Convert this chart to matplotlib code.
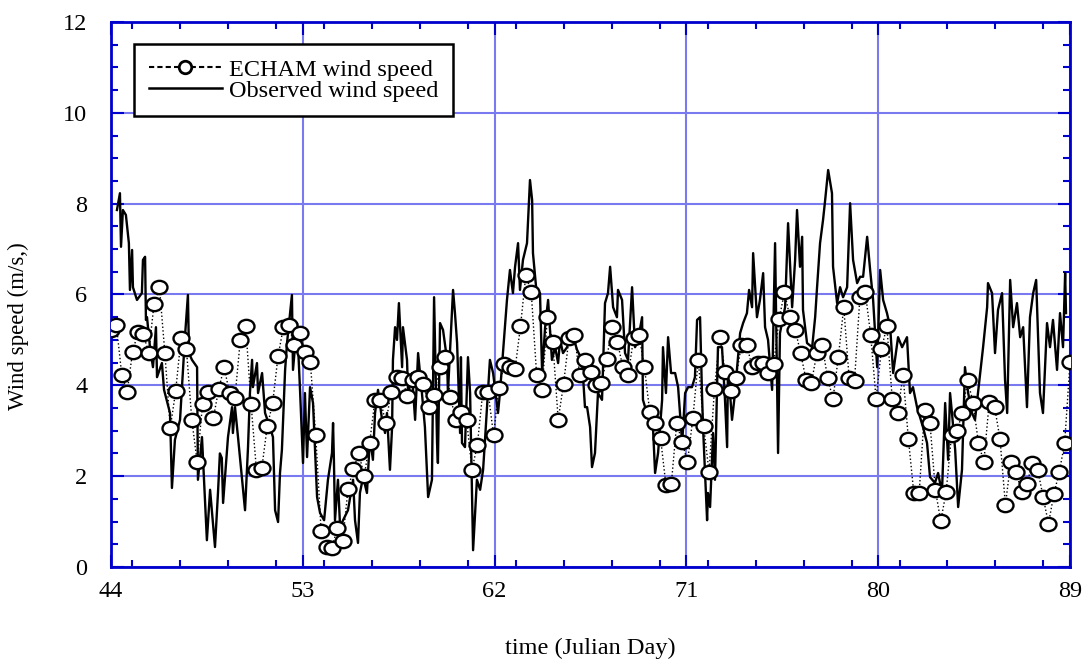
import numpy as np
import matplotlib
matplotlib.use("Agg")
import matplotlib.pyplot as plt
from matplotlib.path import Path
from matplotlib.transforms import Affine2D
from matplotlib.lines import Line2D
from matplotlib.ticker import MultipleLocator

plt.rcParams["font.family"] = ["Liberation Serif", "DejaVu Serif"]

# ECHAM model wind speed, 6-hourly (m/s)
echam_speed = [
    5.22, 5.33, 4.23, 3.85, 4.73, 5.17, 5.13, 4.71, 5.80, 6.16,
    4.71, 3.06, 3.87, 5.04, 4.80, 3.24, 2.31, 3.59, 3.85, 3.28,
    3.92, 4.40, 3.83, 3.72, 5.00, 5.30, 3.59, 2.13, 2.18, 3.10,
    3.60, 4.64, 5.28, 5.33, 4.88, 5.15, 4.73, 4.51, 2.90, 0.80,
    0.44, 0.42, 0.85, 0.58, 1.72, 2.16, 2.50, 2.00, 2.73, 3.68,
    3.68, 3.17, 3.85, 4.18, 4.16, 3.77, 4.12, 4.18, 4.03, 3.52,
    3.79, 4.40, 4.62, 3.74, 3.24, 3.41, 3.24, 2.14, 2.69, 3.85,
    3.85, 2.90, 3.94, 4.47, 4.40, 4.36, 5.30, 6.43, 6.05, 4.23,
    3.90, 5.50, 4.95, 3.24, 4.03, 5.04, 5.10, 4.23, 4.56, 4.30,
    4.00, 4.05, 4.58, 5.28, 4.95, 4.40, 4.23, 5.04, 5.10, 4.40,
    3.41, 3.17, 2.84, 1.80, 1.83, 3.17, 2.75, 2.31, 3.28, 4.56,
    3.10, 2.09, 3.92, 5.06, 4.29, 3.87, 4.16, 4.89, 4.89, 4.40,
    4.50, 4.50, 4.27, 4.47, 5.46, 6.05, 5.50, 5.22, 4.71, 4.12,
    4.05, 4.71, 4.89, 4.16, 3.70, 4.62, 5.72, 4.16, 4.10, 5.94,
    6.05, 5.10, 3.70, 4.80, 5.30, 3.70, 3.39, 4.23, 2.82, 1.63,
    1.63, 3.46, 3.17, 1.70, 1.01, 1.65, 2.90, 2.99, 3.39, 4.12,
    3.61, 2.73, 2.31, 3.63, 3.52, 2.82, 1.37, 2.31, 2.09, 1.65,
    1.83, 2.29, 2.14, 1.54, 0.95, 1.61, 2.09, 2.73, 4.51,
]
echam_day = np.linspace(44, 89, len(echam_speed))

# observed wind speed (Julian day, m/s)
obs_day = [
    44.28, 44.42, 44.47, 44.56, 44.70, 44.84, 44.89, 44.99, 45.03, 45.22,
    45.45, 45.50, 45.60, 45.64, 45.69, 45.83, 45.97, 46.11, 46.16, 46.39,
    46.49, 46.77, 46.86, 47.00, 47.24, 47.47, 47.61, 47.66, 47.80, 48.04,
    48.08, 48.27, 48.50, 48.65, 48.88, 49.02, 49.11, 49.20, 49.26, 49.49,
    49.68, 49.72, 49.82, 49.96, 50.29, 50.43, 50.52, 50.62, 50.66, 50.85,
    50.90, 51.09, 51.23, 51.46, 51.60, 51.70, 51.84, 51.93, 52.02, 52.17,
    52.26, 52.49, 52.54, 52.73, 52.87, 53.01, 53.10, 53.20, 53.34, 53.48,
    53.67, 53.81, 54.00, 54.18, 54.37, 54.42, 54.46, 54.51, 54.65, 54.75,
    54.89, 55.12, 55.36, 55.45, 55.59, 55.68, 55.83, 56.01, 56.15, 56.29,
    56.39, 56.53, 56.72, 56.86, 56.95, 57.09, 57.19, 57.23, 57.33, 57.42,
    57.51, 57.66, 57.70, 57.89, 57.94, 58.12, 58.27, 58.41, 58.59, 58.73,
    58.88, 59.06, 59.16, 59.30, 59.34, 59.44, 59.58, 59.77, 59.81, 60.05,
    60.14, 60.24, 60.38, 60.42, 60.47, 60.61, 60.75, 60.85, 60.99, 61.17,
    61.32, 61.46, 61.55, 61.78, 61.93, 62.16, 62.25, 62.39, 62.58, 62.72,
    62.86, 62.96, 63.10, 63.19, 63.33, 63.52, 63.66, 63.76, 63.80, 63.99,
    64.13, 64.23, 64.37, 64.51, 64.69, 64.84, 64.98, 65.07, 65.21, 65.40,
    65.63, 65.87, 66.10, 66.24, 66.34, 66.48, 66.57, 66.71, 66.85, 67.04,
    67.18, 67.32, 67.42, 67.56, 67.74, 67.79, 67.98, 68.12, 68.26, 68.45,
    68.59, 68.73, 68.92, 68.96, 69.20, 69.43, 69.53, 69.67, 69.86, 69.90,
    70.04, 70.14, 70.28, 70.47, 70.61, 70.80, 70.94, 71.08, 71.26, 71.40,
    71.50, 71.64, 71.73, 71.78, 71.97, 72.01, 72.11, 72.25, 72.34, 72.48,
    72.67, 72.81, 72.91, 72.95, 73.14, 73.28, 73.38, 73.52, 73.66, 73.84,
    73.94, 74.08, 74.13, 74.31, 74.45, 74.60, 74.69, 74.83, 75.02, 75.16,
    75.30, 75.39, 75.63, 75.77, 75.96, 76.10, 76.19, 76.33, 76.43, 76.47,
    76.66, 76.90, 77.04, 77.13, 77.27, 77.41, 77.51, 77.65, 77.83, 77.88,
    78.07, 78.21, 78.35, 78.54, 78.68, 78.82, 79.01, 79.15, 79.29, 79.48,
    79.62, 79.76, 79.95, 80.09, 80.23, 80.41, 80.56, 80.70, 80.93, 81.12,
    81.35, 81.49, 81.63, 81.82, 82.10, 82.29, 82.43, 82.66, 82.81, 82.99,
    83.14, 83.28, 83.37, 83.46, 83.61, 83.75, 83.93, 84.07, 84.22, 84.40,
    84.54, 84.68, 84.78, 84.92, 85.11, 85.15, 85.34, 85.48, 85.62, 85.81,
    85.95, 86.05, 86.19, 86.33, 86.51, 86.66, 86.80, 86.98, 87.12, 87.27,
    87.41, 87.59, 87.73, 87.92, 88.06, 88.20, 88.39, 88.53, 88.67, 88.77,
    88.81,
]
obs_speed = [
    7.86, 8.23, 7.05, 7.86, 7.75, 7.13, 6.10, 6.98, 6.16, 5.88,
    6.03, 6.76, 6.83, 5.44, 5.50, 4.84, 4.40, 5.28, 4.18, 4.49,
    3.90, 3.39, 1.74, 2.80, 3.24, 5.06, 5.99, 4.71, 4.56, 4.40,
    1.92, 2.86, 0.59, 1.70, 0.44, 1.63, 2.50, 2.40, 1.41, 2.86,
    3.52, 2.95, 3.52, 2.86, 1.25, 2.64, 3.83, 4.56, 3.96, 4.49,
    3.83, 4.27, 3.39, 3.08, 2.86, 1.25, 0.99, 2.07, 2.58, 4.34,
    4.93, 5.99, 4.34, 5.37, 3.90, 2.29, 3.83, 2.42, 3.96, 3.61,
    1.54, 1.19, 1.03, 1.92, 2.51, 3.17, 2.36, 1.03, 1.92, 0.88,
    1.03, 1.25, 1.92, 1.03, 0.53, 1.63, 1.98, 1.63, 2.86, 2.36,
    3.39, 3.90, 3.24, 2.95, 3.39, 2.14, 3.08, 4.56, 5.28, 5.00,
    5.81, 4.40, 5.28, 4.56, 3.83, 4.27, 3.24, 4.71, 3.83, 3.08,
    1.54, 1.92, 5.94, 2.73, 2.29, 5.37, 5.22, 4.56, 3.83, 6.10,
    5.59, 4.93, 2.95, 4.62, 2.73, 2.64, 4.62, 3.83, 0.37, 1.92,
    1.70, 2.14, 2.80, 4.56, 4.27, 3.39, 3.83, 4.71, 5.88, 6.54,
    6.03, 6.61, 7.13, 6.10, 6.76, 7.13, 8.52, 8.08, 6.91, 5.94,
    6.03, 4.27, 5.28, 5.88, 4.56, 4.84, 4.49, 5.00, 4.71, 4.84,
    5.15, 4.78, 4.56, 3.52, 3.52, 3.08, 2.20, 2.51, 3.83, 3.68,
    5.81, 6.03, 6.61, 5.72, 5.50, 6.10, 5.88, 4.71, 4.56, 6.16,
    4.84, 5.00, 5.50, 3.68, 3.30, 3.08, 2.07, 2.51, 3.68, 4.84,
    3.83, 5.06, 4.27, 4.27, 3.96, 2.73, 3.83, 3.96, 3.96, 4.18,
    5.44, 5.50, 3.83, 3.08, 1.03, 1.63, 1.32, 2.95, 1.92, 4.84,
    4.84, 3.68, 2.64, 4.40, 3.24, 3.83, 4.40, 5.15, 5.37, 5.59,
    6.10, 5.72, 6.91, 5.50, 5.88, 6.47, 5.28, 5.00, 3.90, 7.13,
    2.51, 5.15, 5.72, 7.57, 5.72, 6.76, 7.86, 6.61, 7.27, 5.66,
    4.93, 4.84, 5.50, 6.16, 7.13, 7.64, 8.08, 8.74, 8.23, 6.61,
    5.81, 6.16, 5.94, 6.16, 8.01, 6.76, 6.25, 6.39, 6.39, 7.27,
    6.54, 5.88, 4.40, 6.54, 5.88, 5.59, 5.28, 4.27, 5.06, 4.84,
    5.06, 3.83, 3.96, 3.52, 3.08, 2.73, 1.98, 1.85, 2.07, 1.63,
    3.61, 2.36, 3.83, 3.39, 2.58, 1.32, 2.14, 4.40, 3.83, 3.39,
    3.24, 3.83, 4.27, 4.84, 5.72, 6.25, 6.03, 4.71, 5.66, 6.03,
    4.12, 3.39, 6.32, 5.28, 5.81, 5.06, 5.28, 3.52, 5.50, 6.03,
    6.32, 3.83, 3.39, 5.37, 4.84, 5.44, 4.34, 5.59, 4.84, 6.47,
    5.59,
]

x_ticks = [44, 53, 62, 71, 80, 89]
y_ticks = [0, 2, 4, 6, 8, 10, 12]

frame_blue = "#0000cc"
grid_blue = "#7a7af0"

fig = plt.figure(figsize=(10.87, 6.64), dpi=100)
ax = fig.add_axes([0.1021, 0.1461, 0.8823, 0.8208])

# slightly wide ellipse marker like the original
ell = Path.unit_circle().transformed(Affine2D().scale(1.2, 1.0))

ax.plot(obs_day, obs_speed, color="black", lw=1.7, zorder=3)
ax.plot(echam_day, echam_speed, color="black", lw=1.0, ls=":", zorder=4,
        marker=ell, ms=11.5, mfc="white", mec="black", mew=1.7)

ax.set_xlim(44, 89)
ax.set_ylim(0, 12)
ax.set_xticks(x_ticks)
ax.set_yticks(y_ticks)
ax.xaxis.set_minor_locator(MultipleLocator(2.25))
ax.yaxis.set_minor_locator(MultipleLocator(0.5))
ax.grid(which="major", color=grid_blue, lw=1.5, zorder=1)
ax.set_axisbelow(True)

for sp in ax.spines.values():
    sp.set_color(frame_blue)
    sp.set_linewidth(2)
ax.tick_params(which="both", direction="in", top=True, right=True,
               color=frame_blue, width=1.5, labelsize=17.5)
ax.tick_params(axis="x", which="both", pad=10)
ax.tick_params(axis="y", which="both", pad=17)
ax.tick_params(which="major", length=9)
ax.tick_params(which="minor", length=5)

ax.set_xlabel("time (Julian Day)", fontsize=17.5, labelpad=26)
ax.set_ylabel("Wind speed (m/s,)", fontsize=16.5)
ax.yaxis.set_label_coords(-0.085, 0.442)

handles = [
    Line2D([], [], color="black", lw=1.5, ls=(0, (2.5, 1.5)), marker="o",
           ms=9, mfc="white", mec="black", mew=2),
    Line2D([], [], color="black", lw=1.8),
]
leg = ax.legend(handles, ["ECHAM wind speed", "Observed wind speed"],
                loc="upper left", bbox_to_anchor=(0.024, 0.959), borderaxespad=0,
                fontsize=17.5, handlelength=3.0, handletextpad=0.3,
                labelspacing=-0.05, borderpad=0.6, fancybox=False,
                framealpha=1, edgecolor="black")
leg.get_frame().set_linewidth(1.8)
leg.set_zorder(6)

fig.savefig("out.png", dpi=100, facecolor="white")
